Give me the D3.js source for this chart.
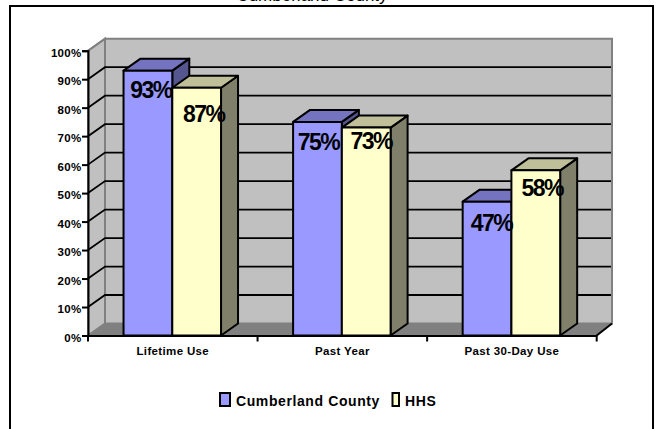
<!DOCTYPE html>
<html>
<head>
<meta charset="utf-8">
<script src="https://cdn.jsdelivr.net/npm/d3@7"></script>
<style>
  html, body { margin: 0; padding: 0; background: #fff; overflow: hidden; }
  text { font-family: "Liberation Sans", Arial, sans-serif; fill: #000; }
</style>
</head>
<body>
<div id="chart"></div>
<script>
// chart data
var categories = ["Lifetime Use", "Past Year", "Past 30-Day Use"];
var seriesNames = ["Cumberland County", "HHS"];
var countyValues = [93, 75, 47];
var hhsValues = [87, 73, 58];
var yTicks = [0, 10, 20, 30, 40, 50, 60, 70, 80, 90, 100];
var titleText = "Cumberland County";

var svgWidth = 660;
var svgHeight = 429;

// front plane of the 3d box and how far the back wall is offset
var plot = { left: 88, right: 596.7, top: 50.7, bottom: 335.5 };
var depth = { x: 17, y: -12 };
var backRight = 612;

var frontColors = ["#9999ff", "#ffffcc"];
var topColors = ["#7373bf", "#bfbf99"];
var sideColors = ["#55558f", "#80806a"];

// value labels are not centred on the bars in the reference
var labelShiftX = [3, 7, 1, 5, 4.5, 6.5];
var labelShiftY = [27, 34, 28, 21, 29, 26];

var svg = d3.select("#chart")
  .append("svg")
  .attr("width", svgWidth)
  .attr("height", svgHeight)
  .style("display", "block");

// scales
var xScale = d3.scaleBand()
  .domain(categories)
  .range([plot.left, plot.right]);

var barScale = d3.scaleBand()
  .domain(seriesNames)
  .range([0, 97.5]);

var yScale = d3.scaleLinear()
  .domain([0, 100])
  .range([plot.bottom, plot.top]);

function poly(points) {
  return "M" + points.map(p => p.join(",")).join("L") + "Z";
}

// outer frame, runs off the bottom like the reference
svg.append("rect")
  .attr("x", 10)
  .attr("y", 6)
  .attr("width", 643)
  .attr("height", svgHeight + 10)
  .attr("fill", "#fff")
  .attr("stroke", "#000")
  .attr("stroke-width", 2);

// title is cut off by the top edge
svg.append("text")
  .attr("x", 312)
  .attr("y", 0.5)
  .attr("text-anchor", "middle")
  .style("font-size", "17px")
  .text(titleText);

var gx0 = plot.left, gx1 = plot.right, gy0 = plot.bottom, gy1 = plot.top;

// back wall
svg.append("path")
  .attr("d", poly([[gx0 + depth.x, gy1 + depth.y], [backRight, gy1 + depth.y],
    [backRight, gy0 + depth.y], [gx0 + depth.x, gy0 + depth.y]]))
  .attr("fill", "#c0c0c0")
  .attr("stroke", "#808080")
  .attr("stroke-width", 2);

// left wall
svg.append("path")
  .attr("d", poly([[gx0, gy1], [gx0 + depth.x, gy1 + depth.y],
    [gx0 + depth.x, gy0 + depth.y], [gx0, gy0]]))
  .attr("fill", "#c0c0c0")
  .attr("stroke", "#808080")
  .attr("stroke-width", 2);

// floor
svg.append("path")
  .attr("d", poly([[gx0, gy0], [gx0 + depth.x, gy0 + depth.y],
    [backRight, gy0 + depth.y], [gx1, gy0]]))
  .attr("fill", "#808080")
  .attr("stroke", "#808080")
  .attr("stroke-width", 1);

// gridlines along back wall and left wall
var gridTicks = yTicks.filter(d => d > 0 && d < 100);
svg.selectAll(".grid")
  .data(gridTicks)
  .enter()
  .append("path")
  .attr("class", "grid")
  .attr("d", d => `M${gx0},${yScale(d)}L${gx0 + depth.x},${yScale(d) + depth.y}H${backRight - 1}`)
  .attr("fill", "none")
  .attr("stroke", "#000")
  .attr("stroke-width", 1.8);

svg.append("path")
  .attr("d", `M${gx0},${gy1}L${gx0 + depth.x},${gy1 + depth.y}`)
  .attr("stroke", "#808080")
  .attr("stroke-width", 2);

// bars, one group per category
var barData = [];
categories.forEach(function(cat, i) {
  // county is drawn first, the hhs bar sits in front of it
  barData.push({ cat: cat, series: seriesNames[0], idx: 0, value: countyValues[i] });
  barData.push({ cat: cat, series: seriesNames[1], idx: 1, value: hhsValues[i] });
});

var barGroups = svg.selectAll(".bar")
  .data(barData)
  .enter()
  .append("g")
  .attr("class", "bar")
  .attr("stroke", "#000")
  .attr("stroke-width", 2)
  .attr("stroke-linejoin", "round");

function barLeft(d) {
  return xScale(d.cat) + (xScale.bandwidth() - barScale.range()[1]) / 2 - 0.5 + barScale(d.series);
}

barGroups.append("path")
  .attr("d", function(d) {
    var x = barLeft(d), w = barScale.bandwidth(), y = yScale(d.value);
    return poly([[x + w, y], [x + w + depth.x, y + depth.y], [x + w + depth.x, gy0 + depth.y], [x + w, gy0]]);
  })
  .attr("fill", d => sideColors[d.idx]);

barGroups.append("path")
  .attr("d", function(d) {
    var x = barLeft(d), w = barScale.bandwidth(), y = yScale(d.value);
    return poly([[x, y], [x + depth.x, y + depth.y], [x + w + depth.x, y + depth.y], [x + w, y]]);
  })
  .attr("fill", d => topColors[d.idx]);

barGroups.append("rect")
  .attr("x", d => barLeft(d))
  .attr("y", d => yScale(d.value))
  .attr("width", barScale.bandwidth())
  .attr("height", d => gy0 - yScale(d.value))
  .attr("fill", d => frontColors[d.idx]);

// axes
var leftAxis = d3.axisLeft(yScale)
  .tickValues(yTicks)
  .tickFormat(d => d + "%")
  .tickSize(6)
  .tickPadding(0.5);

var yAxisGroup = svg.append("g")
  .attr("transform", `translate(${plot.left},0)`)
  .call(leftAxis);

yAxisGroup.selectAll("text")
  .attr("dy", "0.5em")
  .style("font-size", "11.5px")
  .style("font-weight", "bold")
  .style("letter-spacing", "0.3px");

var bottomAxis = d3.axisBottom(xScale)
  .tickSize(0)
  .tickPadding(11);

var xAxisGroup = svg.append("g")
  .attr("transform", `translate(0,${plot.bottom})`)
  .call(bottomAxis);

xAxisGroup.selectAll("text")
  .style("font-size", "11.5px")
  .style("font-weight", "bold")
  .style("letter-spacing", "0.35px");

// category separators sit on the band edges
svg.selectAll(".catTick")
  .data(categories.concat(["end"]))
  .enter()
  .append("line")
  .attr("class", "catTick")
  .attr("x1", (d, i) => i < categories.length ? xScale(d) : plot.right)
  .attr("x2", (d, i) => i < categories.length ? xScale(d) : plot.right)
  .attr("y1", plot.bottom)
  .attr("y2", plot.bottom + 6)
  .attr("stroke", "#000")
  .attr("stroke-width", 2);

[yAxisGroup, xAxisGroup].forEach(function(g) {
  g.selectAll(".domain").attr("stroke", "#000").attr("stroke-width", 2);
  g.selectAll(".tick line").attr("stroke", "#000").attr("stroke-width", 2);
});

// right end of the floor
svg.append("line")
  .attr("x1", plot.right)
  .attr("y1", plot.bottom)
  .attr("x2", backRight)
  .attr("y2", plot.bottom + depth.y)
  .attr("stroke", "#000")
  .attr("stroke-width", 2);

// value labels
svg.selectAll(".valueLabel")
  .data(barData)
  .enter()
  .append("text")
  .attr("class", "valueLabel")
  .attr("x", (d, i) => barLeft(d) + barScale.bandwidth() / 2 + labelShiftX[i])
  .attr("y", (d, i) => yScale(d.value) + labelShiftY[i])
  .attr("text-anchor", "middle")
  .style("font-size", "23px")
  .style("font-weight", "bold")
  .style("letter-spacing", "-1.5px")
  .text(d => d.value + "%");

// legend
var legendX = [220, 392.5];
var swatchWidth = [10, 6.5];
var legend = svg.selectAll(".legendItem")
  .data(seriesNames)
  .enter()
  .append("g")
  .attr("class", "legendItem")
  .attr("transform", (d, i) => `translate(${legendX[i]},393)`);

legend.append("rect")
  .attr("width", (d, i) => swatchWidth[i])
  .attr("height", 13)
  .attr("fill", (d, i) => frontColors[i])
  .attr("stroke", "#000")
  .attr("stroke-width", 2);

legend.append("text")
  .attr("x", (d, i) => swatchWidth[i] + 6)
  .attr("y", 13)
  .style("font-size", "14px")
  .style("font-weight", "bold")
  .style("letter-spacing", "0.6px")
  .text(d => d);
</script>
</body>
</html>
